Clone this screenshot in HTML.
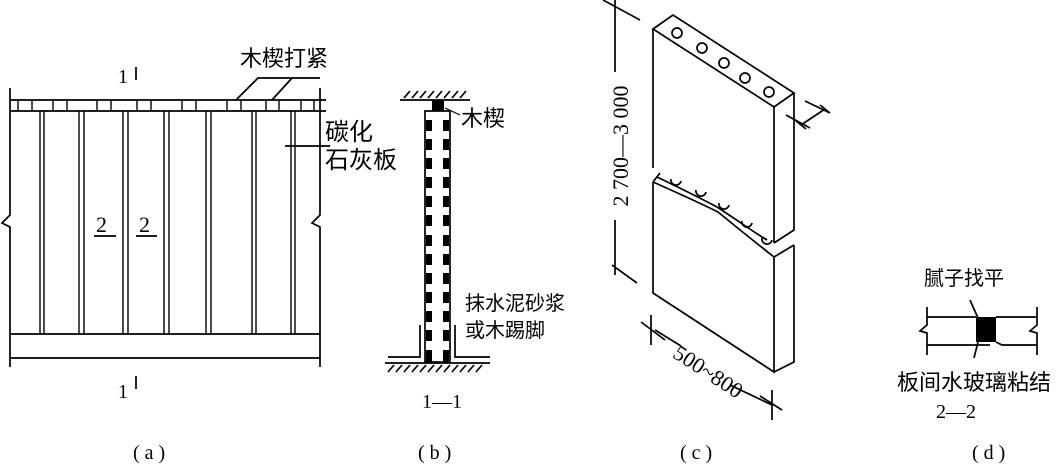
<!DOCTYPE html>
<html><head><meta charset="utf-8"><style>
html,body{margin:0;padding:0;background:#fff;}
svg{display:block;}
text{font-family:"Liberation Serif","Noto Serif CJK SC",serif;fill:#000;}
.cj{font-family:"Liberation Sans","Noto Sans CJK SC",sans-serif;}
</style></head><body>
<svg width="1063" height="468" viewBox="0 0 1063 468" xmlns="http://www.w3.org/2000/svg">
<g stroke="#000" stroke-width="1.7" fill="none">
<path d="M10 88V215L2 223L10 227V367"/>
<path d="M320 88V215L312 223L320 227V367"/>
<line x1="10" y1="100" x2="326" y2="100"/>
<line x1="10" y1="111" x2="326" y2="111"/>
<g stroke-width="1.4">
<path d="M18 100V111M32 100V111M53 100V111M67 100V111M97 100V111M111 100V111M137 100V111M151 100V111M182 100V111M196 100V111M227 100V111M241 100V111M266 100V111M279 100V111M301 100V111M314 100V111"/>
<path d="M40 111V334M44 111V334M79 111V334M84 111V334M123 111V334M128 111V334M164 111V334M169 111V334M206 111V334M211 111V334M252 111V334M256 111V334M291 111V334M295 111V334"/>
</g>
<line x1="10" y1="334" x2="320" y2="334"/>
<line x1="10" y1="358" x2="320" y2="358"/>
<path d="M136 67V80M136 376V389"/>
<path d="M94 236H116M136 236H157"/>
<path d="M236 100L258 78H320M272 100L292 78"/>
<line x1="285" y1="146" x2="330" y2="146"/>
<line x1="400" y1="100" x2="470" y2="100"/>
<path d="M404 98l6-7M412 98l6-7M420 98l6-7M428 98l6-7M436 98l6-7M444 98l6-7M452 98l6-7M460 98l6-7"/>
<rect x="425" y="111" width="25" height="251"/>
<path d="M420 325V357H388M455 325V357H490"/>
<line x1="385" y1="363" x2="490" y2="363"/>
<path d="M388 372l6-7M396 372l6-7M404 372l6-7M412 372l6-7M420 372l6-7M428 372l6-7M436 372l6-7M444 372l6-7M452 372l6-7M460 372l6-7M468 372l6-7M476 372l6-7"/>
<path d="M445 108L460 115" stroke-width="1.2"/>
<path d="M653 29L673 15L794 93L774 107L653 29Z"/>
<path d="M653 29V168M774 107V243M794 93V230L774 243"/>
<path d="M794 245V362L774 372M774 257L794 245"/>
<path d="M653 182V293L774 372V257"/>
<path d="M657 177C680 188 700 198 717 207C740 222 755 233 767 240"/>
<path d="M653 182L660 173M653 182C680 194 700 203 718 212C740 230 760 246 774 257"/>
<circle cx="677" cy="33" r="5"/><circle cx="702" cy="48" r="5"/><circle cx="724" cy="63" r="5"/><circle cx="745" cy="78" r="5"/><circle cx="769" cy="92" r="5"/>
<path d="M671 179a5 5 0 0 0 10 2M696 190a5 5 0 0 0 10 2M719 203a5 5 0 0 0 10 2M742 221a5 5 0 0 0 10 2M762 238a5 5 0 0 0 10 2"/>
<path d="M615 0V72M615 220V275M603 0L640 20M612 265L637 283"/>
<path d="M805 101L830 113M786 115L810 128M801 125L825 109M796 121L806 129M820 105L830 113"/>
<path d="M651 315V345M772 390V420M655 330L681 346M730 385L772 405M641 322L665 340M760 396L782 410"/>
<path d="M927 307V325L920 331L927 333V355"/>
<path d="M1037 307V325L1030 331L1037 333V355"/>
<path d="M927 317H976M996 317H1037M927 345H990M996 342L1002 345H1037"/>
<path d="M970 300L978 318M978 342L974 358"/>
</g>
<rect x="432" y="100" width="12" height="11" fill="#000"/>
<g fill="#000">
<rect x="426" y="120" width="6" height="11"/><rect x="443" y="120" width="6" height="11"/>
<rect x="426" y="139" width="6" height="11"/><rect x="443" y="139" width="6" height="11"/>
<rect x="426" y="158" width="6" height="11"/><rect x="443" y="158" width="6" height="11"/>
<rect x="426" y="177" width="6" height="11"/><rect x="443" y="177" width="6" height="11"/>
<rect x="426" y="196" width="6" height="11"/><rect x="443" y="196" width="6" height="11"/>
<rect x="426" y="215" width="6" height="11"/><rect x="443" y="215" width="6" height="11"/>
<rect x="426" y="235" width="6" height="11"/><rect x="443" y="235" width="6" height="11"/>
<rect x="426" y="254" width="6" height="11"/><rect x="443" y="254" width="6" height="11"/>
<rect x="426" y="273" width="6" height="11"/><rect x="443" y="273" width="6" height="11"/>
<rect x="426" y="292" width="6" height="11"/><rect x="443" y="292" width="6" height="11"/>
<rect x="426" y="311" width="6" height="11"/><rect x="443" y="311" width="6" height="11"/>
<rect x="426" y="330" width="6" height="11"/><rect x="443" y="330" width="6" height="11"/>
<rect x="426" y="350" width="6" height="12"/><rect x="443" y="350" width="6" height="12"/>
<rect x="976" y="317" width="20" height="25"/>
</g>
<text x="118" y="83" font-size="20">1</text>
<text x="118" y="398" font-size="20">1</text>
<text x="96" y="232" font-size="22">2</text>
<text x="139" y="232" font-size="22">2</text>
<text class="cj" x="240" y="66" font-size="22">木楔打紧</text>
<text class="cj" x="325" y="140" font-size="24">碳化</text>
<text class="cj" x="325" y="168" font-size="24">石灰板</text>
<text class="cj" x="461" y="126" font-size="22">木楔</text>
<text class="cj" x="465" y="310" font-size="20">抹水泥砂浆</text>
<text class="cj" x="465" y="337" font-size="20">或木踢脚</text>
<text x="422" y="408" font-size="20">1—1</text>
<text x="621" y="146" font-size="22" text-anchor="middle" transform="rotate(-90 621 146)" dy="7">2 700—3 000</text>
<text x="708" y="372" font-size="22" text-anchor="middle" transform="rotate(33 708 372)" dy="7">500~800</text>
<text class="cj" x="924" y="285" font-size="20">腻子找平</text>
<text class="cj" x="897" y="390" font-size="22">板间水玻璃粘结</text>
<text x="936" y="418" font-size="20">2—2</text>
<text x="133" y="459" font-size="20">( a )</text>
<text x="418" y="459" font-size="20">( b )</text>
<text x="680" y="459" font-size="20">( c )</text>
<text x="972" y="459" font-size="20">( d )</text>
</svg>
</body></html>
